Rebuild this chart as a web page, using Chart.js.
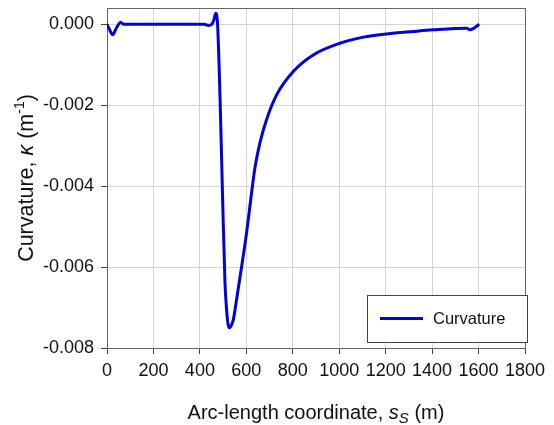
<!DOCTYPE html>
<html>
<head>
<meta charset="utf-8">
<script src="https://cdn.jsdelivr.net/npm/chart.js@4/dist/chart.umd.min.js"></script>
<style>
  body { margin: 0; background: #fff; }
</style>
</head>
<body>
<canvas id="myChart" width="554" height="425"></canvas>
<script>

// arc-length coordinate s_S (m)
const arcLength = [0, 10, 24, 40, 59, 71, 200, 418, 437, 450, 460, 468, 475, 487, 498, 508, 515, 521, 527, 537, 544, 558, 580, 601, 619, 637, 659, 688, 731, 802, 888, 1003, 1104, 1204, 1319, 1405, 1549, 1563, 1577, 1603];
// curvature kappa (1/m)
const curvature = [0, -0.00012, -0.00026, -0.0001, 0.00005, 0, 0, 0, -0.00003, -0.00001, 0.0001, 0.00027, 0.0001, -0.00186, -0.00433, -0.00638, -0.00705, -0.0074, -0.0075, -0.00742, -0.0073, -0.0068, -0.00598, -0.00516, -0.00433, -0.00355, -0.00292, -0.00234, -0.00174, -0.00117, -0.00076, -0.00047, -0.00032, -0.00024, -0.00018, -0.00014, -0.0001, -0.00014, -0.00011, 0];

const xTicks = [0, 200, 400, 600, 800, 1000, 1200, 1400, 1600, 1800];
const yTicks = [-0.008, -0.006, -0.004, -0.002, 0.000];
const serieNombre = 'Curvature';

const fuente = '"Liberation Sans", Arial, sans-serif';
const azul = 'rgb(0, 0, 220)';

let puntos = [];
for (let i = 0; i < arcLength.length; i++) {
    puntos.push({x: arcLength[i], y: curvature[i]});
}

// draws text pieces one after another, each with its own font and vertical shift
function f_textoPartes(ctx, partes, cx, cy) {
    let total = 0;
    partes.forEach(p => { ctx.font = p.font; total += ctx.measureText(p.t).width; });
    let x = cx - total / 2;
    partes.forEach(p => {
        ctx.font = p.font;
        ctx.fillText(p.t, x, cy + (p.dy || 0));
        x += ctx.measureText(p.t).width;
    });
}

const extras = {
    id: 'extras',
    beforeDatasetsDraw(chart) {
        const ctx = chart.ctx;
        const a = chart.chartArea;
        ctx.save();
        ctx.strokeStyle = '#666';
        ctx.lineWidth = 1;
        ctx.strokeRect(a.left + 0.5, a.top + 0.5, a.right - a.left, a.bottom - a.top);
        ctx.restore();
    },
    afterDraw(chart) {
        const ctx = chart.ctx;
        const a = chart.chartArea;
        ctx.save();

        // legend box, lower right of the plot
        const bx = a.right - 158, by = a.bottom - 53, bw = 160, bh = 47;
        ctx.fillStyle = '#fff';
        ctx.fillRect(bx, by, bw, bh);
        ctx.strokeStyle = '#444';
        ctx.lineWidth = 1;
        ctx.strokeRect(bx + 0.5, by + 0.5, bw, bh);
        ctx.strokeStyle = azul;
        ctx.lineWidth = 3;
        ctx.beginPath();
        ctx.moveTo(bx + 13, by + 23.5);
        ctx.lineTo(bx + 56, by + 23.5);
        ctx.stroke();
        ctx.fillStyle = '#111';
        ctx.font = '16.5px ' + fuente;
        ctx.textBaseline = 'middle';
        ctx.textAlign = 'left';
        ctx.fillText(serieNombre, bx + 66, by + 24);

        // axis titles
        ctx.textBaseline = 'alphabetic';
        ctx.fillStyle = '#111';
        f_textoPartes(ctx, [
            {t: 'Arc-length coordinate, ', font: '20px ' + fuente},
            {t: 's', font: 'italic 20px ' + fuente},
            {t: 'S', font: 'italic 15px ' + fuente, dy: 4},
            {t: ' (m)', font: '20px ' + fuente}
        ], (a.left + a.right) / 2, 419);

        ctx.translate(33, 178);
        ctx.rotate(-Math.PI / 2);
        f_textoPartes(ctx, [
            {t: 'Curvature, ', font: '21.5px ' + fuente},
            {t: '\u03BA', font: 'italic 21.5px ' + fuente},
            {t: ' (m', font: '21.5px ' + fuente},
            {t: '-1', font: '14px ' + fuente, dy: -9},
            {t: ')', font: '21.5px ' + fuente}
        ], 0, 0);
        ctx.restore();
    }
};

const config = {
    type: 'line',
    data: {
        datasets: [{
            label: serieNombre,
            data: puntos,
            borderColor: azul,
            borderWidth: 3,
            pointRadius: 0,
            fill: false,
            cubicInterpolationMode: 'monotone'
        }]
    },
    options: {
        responsive: false,
        animation: false,
        layout: {padding: {top: 8, right: 29, left: 0, bottom: 0}},
        plugins: {legend: {display: false}, tooltip: {enabled: false}},
        scales: {
            x: {
                type: 'linear',
                min: 0,
                max: 1800,
                afterBuildTicks: s => { s.ticks = xTicks.map(v => ({value: v})); },
                afterFit: s => { s.height = 77; s.paddingLeft = 0; s.paddingRight = 0; },
                grid: {color: '#d4d4d4', tickColor: '#444', tickLength: 6},
                border: {color: '#555'},
                ticks: {
                    color: '#111',
                    padding: 6,
                    maxRotation: 0,
                    font: {family: fuente, size: 18},
                    callback: v => String(v)
                }
            },
            y: {
                min: -0.008,
                max: 0.0004,
                afterBuildTicks: s => { s.ticks = yTicks.map(v => ({value: v})); },
                afterFit: s => { s.width = 107; s.paddingTop = 0; s.paddingBottom = 0; },
                grid: {color: '#d4d4d4', tickColor: '#444', tickLength: 6},
                border: {color: '#555'},
                ticks: {
                    color: '#111',
                    padding: 7,
                    font: {family: fuente, size: 18},
                    callback: v => v.toFixed(3)
                }
            }
        }
    },
    plugins: [extras]
};

let grafico = new Chart(document.getElementById('myChart'), config);
</script>
</body>
</html>
